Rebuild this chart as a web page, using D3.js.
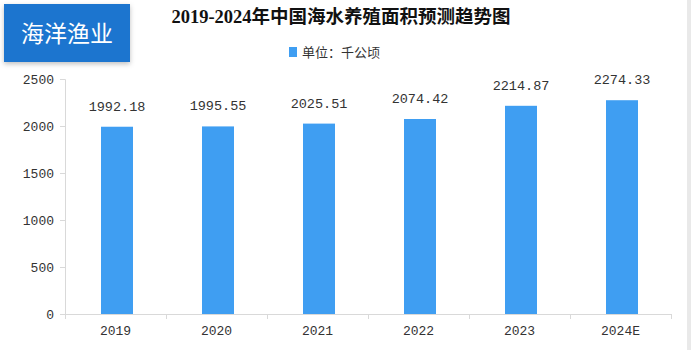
<!DOCTYPE html>
<html><head><meta charset="utf-8">
<script src="https://cdn.jsdelivr.net/npm/d3@7/dist/d3.min.js"></script>
<style>
html,body{margin:0;padding:0;background:#fff;}
svg{display:block;}
</style></head>
<body>
<svg id="chart" width="691" height="350"></svg>
<script>
const categories = ["2019","2020","2021","2022","2023","2024E"];
const values = [1992.18, 1995.55, 2025.51, 2074.42, 2214.87, 2274.33];
const yTicks = [0, 500, 1000, 1500, 2000, 2500];
const title = "2019-2024年中国海水养殖面积预测趋势图";
const legendLabel = "单位：千公顷";
const badgeText = "海洋渔业";

const svg = d3.select("#chart");
const numFont = "'Liberation Mono', 'DejaVu Sans Mono', monospace";
const cjkFont = "'Liberation Serif', 'Noto Sans CJK SC', sans-serif";

// right edge shading
svg.append("rect").attr("x", 687).attr("y", 0).attr("width", 4).attr("height", 350).attr("fill", "#e9e9e9");

const x = d3.scaleBand().domain(categories).range([65, 671]).padding(0);
const y = d3.scaleLinear().domain([0, 2500]).range([314, 79]);

// axes
const gy = svg.append("g").attr("transform", "translate(65,0)")
  .call(d3.axisLeft(y).tickValues(yTicks).tickFormat(d3.format("d")).tickSize(5).tickPadding(6));
gy.select(".domain").attr("stroke", "#d9d9d9");
gy.selectAll(".tick line").attr("stroke", "#d9d9d9");
gy.selectAll("text").attr("font-family", numFont).attr("font-size", 13).attr("fill", "#333");

const gx = svg.append("g").attr("transform", "translate(0,314)")
  .call(d3.axisBottom(x).tickSize(0).tickPadding(12));
gx.select(".domain").attr("stroke", "#d9d9d9");
gx.selectAll("text").attr("font-family", numFont).attr("font-size", 13).attr("fill", "#333");
// boundary ticks
const bounds = categories.map(c => x(c)).concat([x.range()[1]]);
gx.selectAll(".btick").data(bounds).enter().append("line")
  .attr("x1", d => d + 0.5).attr("x2", d => d + 0.5).attr("y1", 0).attr("y2", 5)
  .attr("stroke", "#d9d9d9");

// bars
const bw = 32;
svg.append("g").selectAll("rect").data(values).enter().append("rect")
  .attr("x", (d, i) => x(categories[i]) + x.bandwidth() / 2 - bw / 2 + 1.5)
  .attr("y", d => y(d))
  .attr("width", bw)
  .attr("height", d => y(0) - y(d))
  .attr("fill", "#3f9ef2");

// value labels
svg.append("g").selectAll("text").data(values).enter().append("text")
  .attr("x", (d, i) => x(categories[i]) + x.bandwidth() / 2 + 1.5)
  .attr("y", d => y(d) - 16)
  .attr("text-anchor", "middle")
  .attr("font-family", numFont).attr("font-size", 13.5).attr("fill", "#333")
  .text(d => d.toFixed(2));

// title
svg.append("text").attr("x", 341).attr("y", 23).attr("text-anchor", "middle")
  .attr("font-family", cjkFont).attr("font-weight", "bold").attr("font-size", 18.5).attr("fill", "#111")
  .text(title);

// legend
svg.append("rect").attr("x", 289).attr("y", 47).attr("width", 8).attr("height", 10).attr("fill", "#3f9ef2");
svg.append("text").attr("x", 302).attr("y", 57)
  .attr("font-family", "'Noto Sans CJK SC', sans-serif").attr("font-size", 13).attr("fill", "#333")
  .text(legendLabel);

// badge
const defs = svg.append("defs");
const f = defs.append("filter").attr("id", "sh").attr("x", "-20%").attr("y", "-20%").attr("width", "140%").attr("height", "150%");
f.append("feDropShadow").attr("dx", 0).attr("dy", 2).attr("stdDeviation", 2.5).attr("flood-color", "#000").attr("flood-opacity", 0.25);
svg.append("rect").attr("x", 4).attr("y", 4).attr("width", 126).attr("height", 58).attr("fill", "#1f74cf").attr("filter", "url(#sh)");
svg.append("text").attr("x", 67).attr("y", 42).attr("text-anchor", "middle")
  .attr("font-family", "'Noto Sans CJK SC', sans-serif").attr("font-size", 23).attr("fill", "#fff")
  .text(badgeText);
</script>
</body></html>
